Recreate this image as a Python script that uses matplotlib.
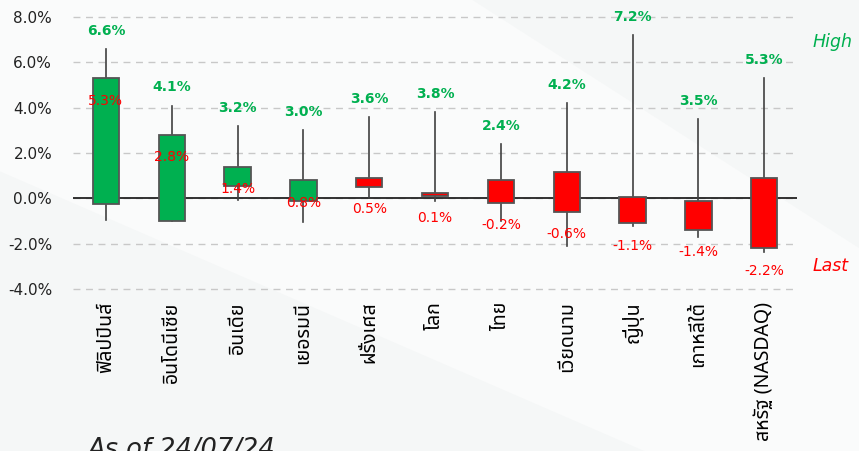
import matplotlib
matplotlib.use("Agg")
import matplotlib.pyplot as plt
from matplotlib import font_manager
from matplotlib.patches import Rectangle, Polygon

# ------------ data ------------
markets = ["ฟิลิปปินส์", "อินโดนีเซีย", "อินเดีย", "เยอรมนี", "ฝรั่งเศส", "โลก",
           "ไทย", "เวียดนาม", "ญี่ปุ่น", "เกาหลีใต้", "สหรัฐ (NASDAQ)"]
open_ = [-0.26, -1.0, 0.53, -0.13, 0.88, 0.22, 0.8, 1.15, 0.05, -0.13, 0.88]
last = [5.3, 2.8, 1.4, 0.8, 0.5, 0.1, -0.2, -0.6, -1.1, -1.4, -2.2]
high = [6.6, 4.1, 3.2, 3.0, 3.6, 3.8, 2.4, 4.2, 7.2, 3.5, 5.3]
low = [-0.95, -1.0, -0.05, -1.06, 0.0, -0.1, -1.0, -2.1, -1.2, -1.7, -2.35]
yticks = [-4, -2, 0, 2, 4, 6, 8]

GREEN = "#00b050"
RED = "#ff0000"

# pick a font that has thai glyphs
names = set(f.name for f in font_manager.fontManager.ttflist)
thai_font = "DejaVu Sans"
for cand in ["Noto Sans Thai", "Tahoma", "Loma", "Garuda", "Sarabun"]:
    if cand in names:
        thai_font = cand
        break

fig = plt.figure(figsize=(8.59, 4.51), dpi=100, facecolor="#f5f7f7")
# light diagonal sweep in the background
fig.patches.append(Polygon([(0, 1), (0.55, 1), (1, 0.45), (1, 0), (0.75, 0), (0, 0.62)],
                           closed=True, transform=fig.transFigure,
                           facecolor="white", edgecolor="none", alpha=0.5, zorder=-1))

ax = fig.add_axes([0.085, 0.359, 0.843, 0.603])
ax.set_facecolor("none")

x = list(range(len(markets)))
for i in x:
    up = last[i] >= open_[i]
    color = GREEN if up else RED
    ax.plot([i, i], [low[i], high[i]], color="#404040", lw=1.2, zorder=2)
    bottom = min(open_[i], last[i])
    h = abs(last[i] - open_[i])
    ax.add_patch(Rectangle((i - 0.2, bottom), 0.4, h, facecolor=color,
                           edgecolor="#555555", lw=1.3, zorder=3))
    ax.annotate("%.1f%%" % high[i], (i, high[i]), xytext=(0, 13), textcoords="offset points",
                ha="center", va="center", color=GREEN, fontsize=10, fontweight="bold",
                annotation_clip=False, zorder=5)
    ax.annotate("%.1f%%" % last[i], (i, last[i]), xytext=(0, -16), textcoords="offset points",
                ha="center", va="center", color=RED, fontsize=10,
                annotation_clip=False, zorder=5)

ax.axhline(0, color="#222222", lw=1.3, zorder=1)
ax.set_xlim(-0.5, len(markets) - 0.5)
ax.set_ylim(-4, 8)
ax.set_yticks(yticks)
ax.set_yticklabels(["%.1f%%" % v for v in yticks], fontsize=11, color="#222222")
ax.grid(axis="y", color="#c8c8c8", ls=(0, (5, 4)), lw=1)
for gl in ax.get_ygridlines():
    gl.set_clip_on(False)
ax.set_axisbelow(True)
ax.set_xticks(x)
ax.set_xticklabels(markets, rotation=90, fontsize=14, family=[thai_font, "DejaVu Sans"],
                   va="top", ha="center")
ax.tick_params(axis="both", length=0)
ax.tick_params(axis="x", pad=9)
ax.tick_params(axis="y", pad=15)
for s in ax.spines.values():
    s.set_visible(False)

fig.text(0.9455, 0.907, "High", color=GREEN, fontsize=12.5, style="italic", ha="left", va="center")
fig.text(0.9455, 0.41, "Last", color=RED, fontsize=12.5, style="italic", ha="left", va="center")
fig.text(0.102, -0.014, "As of 24/07/24", color="#222222", fontsize=18.5, style="italic",
         ha="left", va="baseline")

fig.savefig("out.png", dpi=100, facecolor=fig.get_facecolor())
